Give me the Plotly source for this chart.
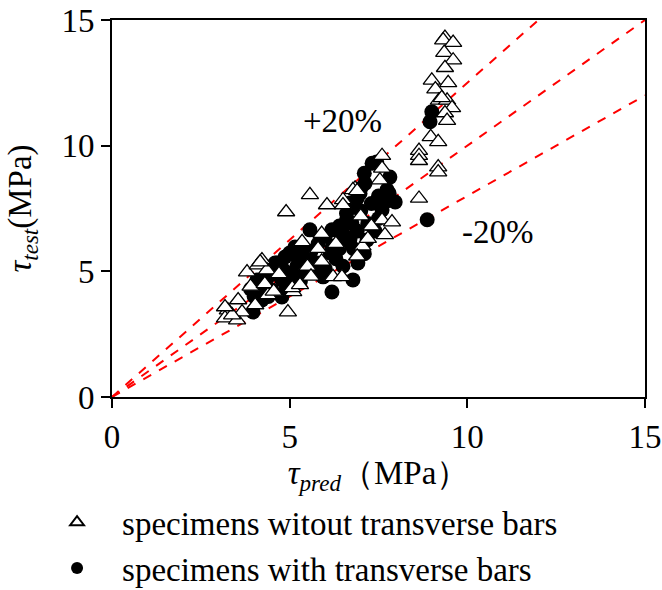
import plotly.graph_objects as go

# specimens without transverse bars (triangles)
tri_x = [9.37, 9.32, 9.6, 9.35, 9.6, 9.37, 9.0, 9.46, 9.1, 9.2, 9.43, 9.57, 9.37, 9.43, 9.28,
         8.97, 9.18, 8.64, 8.64, 8.64, 9.18, 9.18, 8.64,
         7.6, 7.6, 7.54, 6.84, 6.5, 7.6, 7.88, 7.68, 5.57, 4.9, 6.05, 6.5, 6.78, 5.9, 5.35,
         6.22, 6.47, 5.1, 3.8, 4.22, 4.1, 4.36, 3.55, 3.26, 3.18, 3.52, 3.66, 4.95, 4.39, 5.07,
         5.29, 4.03, 3.38, 4.17, 7.05, 7.2, 6.9, 7.3, 7.0, 3.9, 4.3, 4.7, 5.5, 5.8, 6.3, 4.55,
         5.6, 5.9, 3.18, 6.9]
tri_y = [14.3, 14.2, 14.1, 13.7, 13.4, 13.1, 12.6, 12.5, 12.25, 11.8, 11.8, 11.5, 11.3, 11.0, 11.9,
         10.35, 10.15, 9.8, 9.6, 9.4, 9.15, 8.95, 7.9,
         9.6, 9.1, 8.63, 8.3, 7.84, 7.04, 6.96, 6.45, 8.04, 7.36, 7.64, 7.64, 8.24, 6.5, 6.17,
         4.78, 4.78, 4.18, 4.97, 5.45, 5.25, 5.05, 3.86, 3.46, 3.14, 3.06, 3.38, 3.38, 4.06, 4.34,
         4.46, 3.66, 3.26, 5.37, 6.0, 6.3, 5.6, 6.8, 7.2, 4.4, 4.5, 4.9, 5.2, 5.9, 6.1, 4.2,
         4.8, 5.4, 3.58, 8.2]

# specimens with transverse bars (circles)
cir_x = [9.0, 8.95, 8.87, 7.32, 7.45, 7.82, 7.74, 7.68, 7.6, 7.97, 7.12, 6.98, 6.78, 6.6, 6.5,
         6.98, 7.18, 6.19, 5.57, 6.19, 6.7, 6.75, 6.61, 6.92, 6.78, 5.0, 4.64, 5.38, 5.77, 6.14,
         5.94, 5.38, 5.0, 4.45, 3.97, 4.08, 4.03, 4.22, 4.5, 4.59, 4.87, 5.15, 4.78, 4.78, 5.07,
         4.39, 7.5, 7.3, 7.0, 7.2, 6.9, 6.7, 6.8, 6.4, 6.3, 6.0, 5.6, 5.5, 5.2, 4.8, 4.6, 4.3,
         4.2, 5.8, 6.0, 6.4, 6.6, 6.9, 7.1, 7.0, 7.8, 7.5, 7.4, 7.1, 6.5, 5.9, 5.3, 4.9, 4.4,
         4.0, 3.9, 5.6, 5.2, 6.2]
cir_y = [11.35, 10.95, 7.05, 9.3, 9.35, 8.75, 8.24, 7.76, 7.44, 7.76, 8.5, 8.1, 7.56, 7.04, 6.5,
         5.85, 6.25, 4.18, 6.65, 6.65, 7.72, 6.92, 6.13, 5.33, 4.66, 5.73, 5.33, 5.85, 5.33, 5.73,
         4.78, 4.93, 4.66, 5.17, 3.38, 4.66, 4.26, 3.86, 4.26, 5.33, 5.57, 5.97, 4.66, 3.98, 4.93,
         4.78, 8.0, 7.7, 7.4, 6.9, 6.6, 6.3, 5.9, 5.9, 5.5, 5.1, 5.0, 5.5, 5.2, 5.1, 4.9, 4.5,
         4.1, 6.1, 6.4, 6.8, 7.3, 7.9, 8.9, 8.3, 8.1, 7.1, 6.6, 5.7, 5.2, 5.0, 4.6, 4.3, 4.0,
         4.0, 4.3, 5.8, 5.6, 6.0]

ref_x = [0, 15]
ratio_lines = [1.25, 1.0, 0.8]

FONT = "Liberation Serif"
FS = 33

fig = go.Figure()
for r in ratio_lines:
    fig.add_trace(go.Scatter(x=ref_x, y=[v * r for v in ref_x], mode="lines",
                             line=dict(color="#ff0000", width=2, dash="dash"),
                             showlegend=False, hoverinfo="skip"))

fig.add_trace(go.Scatter(x=cir_x, y=cir_y, mode="markers",
                         name="specimens with transverse bars",
                         marker=dict(symbol="circle", size=15, color="black",
                                     line=dict(width=0))))
fig.add_trace(go.Scatter(x=tri_x, y=tri_y, mode="markers",
                         name="specimens witout transverse bars",
                         marker=dict(symbol="triangle-up", size=15, color="white",
                                     line=dict(color="black", width=1.3))))

fig.add_annotation(x=6.5, y=11.0, text="+20%", showarrow=False,
                   font=dict(family=FONT, size=FS, color="black"))
fig.add_annotation(x=10.85, y=6.55, text="-20%", showarrow=False,
                   font=dict(family=FONT, size=FS, color="black"))

axis_common = dict(range=[0, 15], tickvals=[0, 5, 10, 15], showgrid=False, zeroline=False,
                   showline=True, linecolor="black", linewidth=2, mirror=True,
                   ticks="outside", ticklen=9, tickwidth=2, tickcolor="black",
                   automargin=False,
                   tickfont=dict(family=FONT, size=FS, color="black"))

fig.update_xaxes(**axis_common,
                 title=dict(text="<i>τ</i><sub><i>pred</i></sub>（MPa）",
                            font=dict(family=FONT, size=FS, color="black"), standoff=2))
fig.update_yaxes(**axis_common,
                 title=dict(text="<i>τ</i><sub><i>test</i></sub>(MPa)",
                            font=dict(family=FONT, size=FS, color="black"), standoff=20))

fig.update_layout(
    width=662, height=590,
    margin=dict(l=112, r=17, t=20, b=193, autoexpand=False),
    plot_bgcolor="white", paper_bgcolor="white",
    font=dict(family=FONT, color="black"),
    legend=dict(x=-0.15, y=-0.258, xanchor="left", yanchor="top",
                traceorder="reversed", itemsizing="constant", itemwidth=80,
                font=dict(family=FONT, size=33, color="black"),
                bgcolor="rgba(0,0,0,0)", tracegroupgap=0),
)

fig.write_html("out.html")
